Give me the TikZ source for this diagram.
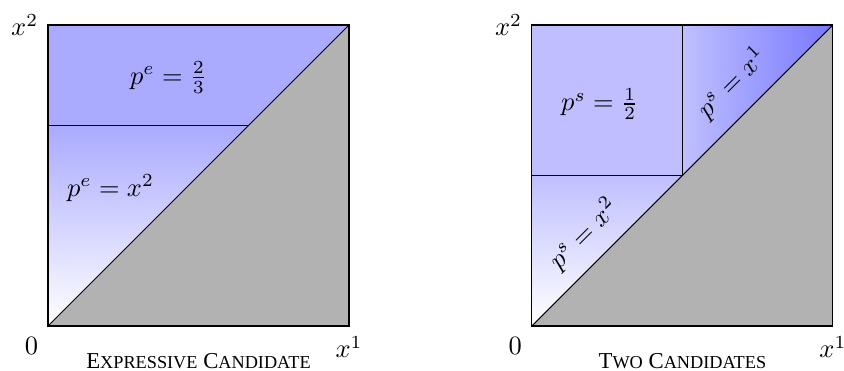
\documentclass[tikz,border=0pt]{standalone}
\usepackage{tikz}
\usetikzlibrary{positioning,calc}
\usepackage{fontspec}
\newfontfamily\capfont{Liberation Serif}
\definecolor{topblue}{RGB}{170,170,255}
\definecolor{halfblue}{RGB}{191,191,255}
\definecolor{deepblue}{RGB}{120,120,255}
\definecolor{offgray}{RGB}{178,178,178}
\newcommand{\smcap}[1]{{\fontsize{6.9}{8}\selectfont #1}}

\begin{document}
\begin{tikzpicture}
\useasboundingbox (-0.638,-0.598) rectangle (10.578,4.332);
% left panel: expressive candidate
\fill[topblue] (0,8/3) rectangle (4,4);
\shade[top color=topblue,bottom color=white] (0,0) -- (8/3,8/3) -- (0,8/3) -- cycle;
\fill[offgray] (0,0) -- (4,0) -- (4,4) -- cycle;
\draw (0,0) rectangle (4,4);
\draw (0,0) -- (4,4);
\draw (0,8/3) -- (8/3,8/3);
\node[anchor=base] (zeroL) at (-0.22,-0.385) {$0$};
\node[anchor=base] (xoneL) at (4.0,-0.425) {$x^1$};
\node[anchor=base] (xtwoL) at (-0.31,3.854) {$x^2$};
\node (peconst) at (1.6,3.3) {$p^e=\frac{2}{3}$};
\node (pexx) at (0.83,1.83) {$p^e=x^2$};
\node[anchor=base,font=\capfont\fontsize{8.6}{10}\selectfont] (capL) at (2.0,-0.57)
 {E\smcap{XPRESSIVE} C\smcap{ANDIDATE}};
% right panel: two candidates
\begin{scope}[xshift=6.43cm]
\fill[halfblue] (0,2) rectangle (2,4);
\shade[top color=halfblue,bottom color=white] (0,0) -- (2,2) -- (0,2) -- cycle;
\shade[left color=halfblue,right color=deepblue] (2,2) -- (4,4) -- (2,4) -- cycle;
\fill[offgray] (0,0) -- (4,0) -- (4,4) -- cycle;
\draw (0,0) rectangle (4,4);
\draw (0,0) -- (4,4);
\draw (0,2) -- (2,2) -- (2,4);
\node[anchor=base] (zeroR) at (-0.22,-0.385) {$0$};
\node[anchor=base] (xoneR) at (4.0,-0.425) {$x^1$};
\node[anchor=base] (xtwoR) at (-0.31,3.854) {$x^2$};
\node (psconst) at (0.9,2.95) {$p^s=\frac{1}{2}$};
\node[rotate=45] (psxx) at (0.69,1.22) {$p^s=x^2$};
\node[rotate=45] (psxone) at (2.66,3.23) {$p^s=x^1$};
\node[anchor=base,font=\capfont\fontsize{8.6}{10}\selectfont] (capR) at (2.0,-0.57)
 {T\smcap{WO} C\smcap{ANDIDATES}};
\end{scope}
\end{tikzpicture}
\end{document}
